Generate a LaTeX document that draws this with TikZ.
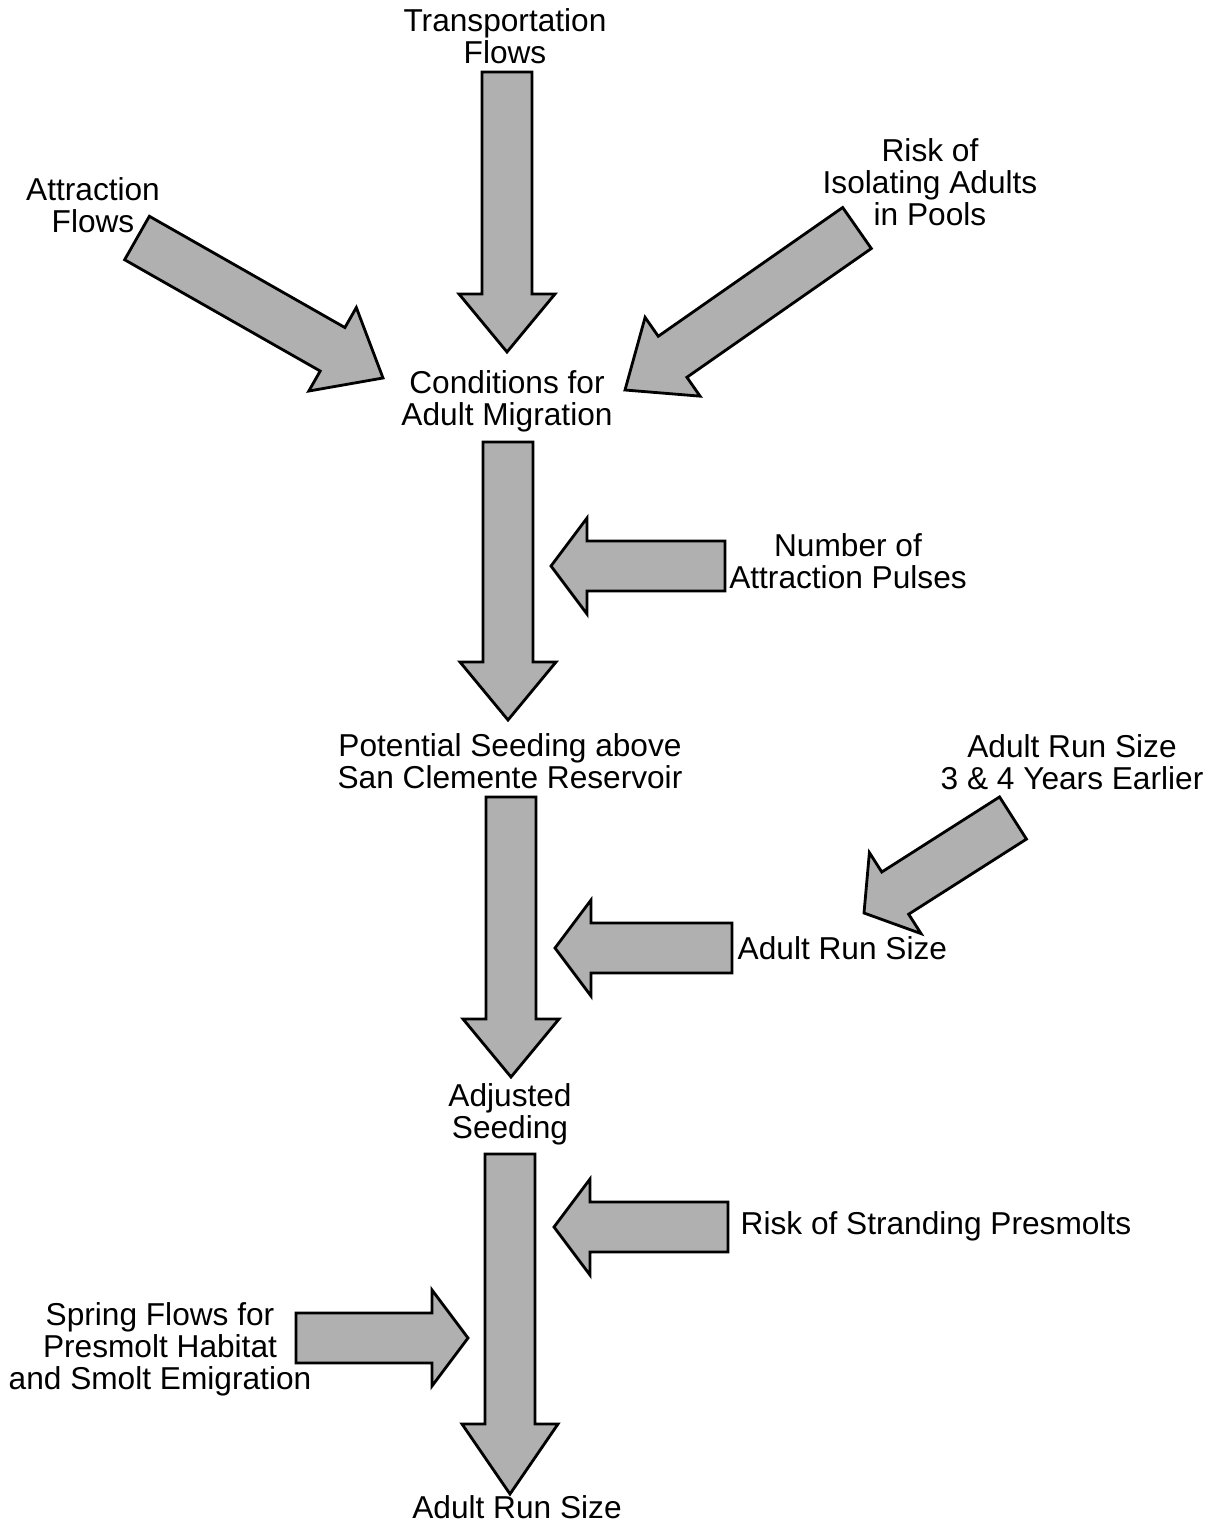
\documentclass[tikz,border=0pt]{standalone}
\usepackage{fontspec}
\setmainfont{Liberation Sans}
\usetikzlibrary{calc}

\begin{document}
\begin{tikzpicture}[
    x=0.01cm, y=-0.01cm,
    factor/.style={align=center, inner sep=0pt, font=\fontsize{9}{9.1}\selectfont},
    bigarrow/.style={draw, line width=0.8pt, fill=black!31, line join=miter}
]
\useasboundingbox (0,0) rectangle (1218,1527);

% Factors
\node[factor] (transp) at (505,36) {Transportation\\Flows};
\node[factor] (attr) at (93,205) {Attraction\\Flows};
\node[factor] (risk) at (930,182) {Risk of\\Isolating Adults\\in Pools};
\node[factor] (cond) at (507,401) {Conditions for\\Adult Migration};
\node[factor] (pulses) at (848,561) {Number of\\Attraction Pulses};
\node[factor] (potential) at (510,761) {Potential Seeding above\\San Clemente Reservoir};
\node[factor] (earlier) at (1072,762) {Adult Run Size\\3 \& 4 Years Earlier};
\node[factor, anchor=west] (runsize) at (737,948) {Adult Run Size};
\node[factor] (adjusted) at (510,1114) {Adjusted\\Seeding};
\node[factor, anchor=west] (strand) at (740,1226) {Risk of Stranding Presmolts};
\node[factor] (spring) at (160,1349) {Spring Flows for\\Presmolt Habitat\\and Smolt Emigration};
\node[factor] (final) at (517,1507) {Adult Run Size};

% Arrow ends
\coordinate (transp-out) at (507,72);
\coordinate (cond-in1) at (507,352);
\coordinate (attr-out) at (137,238);
\coordinate (cond-in2) at (383,378);
\coordinate (risk-out) at (857,228);
\coordinate (cond-in3) at (625,390);
\coordinate (cond-out) at (508,442);
\coordinate (pot-in) at (508,720);
\coordinate (pulses-out) at (725,566);
\coordinate (pulses-tip) at (551,566);
\coordinate (pot-out) at (511,797);
\coordinate (adj-in) at (511,1077);
\coordinate (run-out) at (732,948);
\coordinate (run-tip) at (555,948);
\coordinate (earlier-out) at (1013,818);
\coordinate (run-in) at (864,913);
\coordinate (adj-out) at (510,1154);
\coordinate (final-in) at (510,1494);
\coordinate (strand-out) at (728,1227);
\coordinate (strand-tip) at (554,1227);
\coordinate (spring-out) at (296,1338);
\coordinate (spring-tip) at (468,1338);

% Block arrows
\foreach \a/\b/\l in {transp-out/cond-in1/5.8mm, attr-out/cond-in2/5.8mm,
    risk-out/cond-in3/5.8mm, cond-out/pot-in/5.8mm, pulses-out/pulses-tip/3.6mm,
    pot-out/adj-in/5.8mm, run-out/run-tip/3.6mm, earlier-out/run-in/3.7mm,
    adj-out/final-in/7mm, strand-out/strand-tip/3.6mm, spring-out/spring-tip/3.6mm}
{
  \coordinate (base) at ($(\b)!\l!(\a)$);
  \draw[bigarrow] ($(\a)!2.5mm!90:(\b)$) -- ($(base)!2.5mm!-90:(\a)$)
    -- ($(base)!4.8mm!-90:(\a)$) -- (\b) -- ($(base)!4.8mm!90:(\a)$)
    -- ($(base)!2.5mm!90:(\a)$) -- ($(\a)!2.5mm!-90:(\b)$) -- cycle;
}

\end{tikzpicture}
\end{document}
